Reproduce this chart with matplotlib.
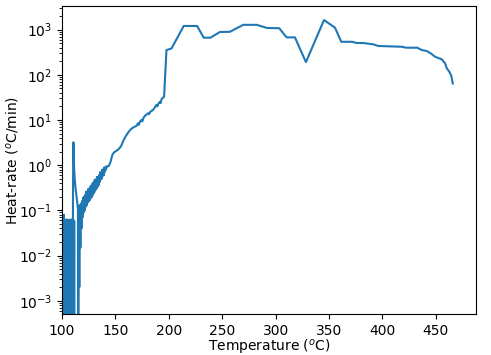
import matplotlib
matplotlib.use("Agg")
import matplotlib.pyplot as plt

# noisy start of the run (values dip far below the axis floor)
temp_noise = [100.0, 100.3, 100.6, 100.9, 101.2, 101.5, 101.8, 102.1, 102.4, 102.7,
              103.0, 103.3, 103.6, 103.9, 104.2, 104.5, 104.8, 105.1, 105.4, 105.7,
              106.0, 106.3, 106.6, 106.9, 107.2, 107.5, 107.8, 108.1, 108.4, 108.7,
              109.0, 109.3, 109.6, 109.9, 110.2, 110.5, 110.8, 111.1, 111.4, 111.7, 112.0]
rate_noise = [0.062, 1e-5, 0.058, 1e-5, 0.066, 1e-5, 0.08, 1e-5, 0.064, 1e-5,
              0.06, 1e-5, 0.061, 1e-5, 0.059, 1e-5, 0.063, 1e-5, 0.06, 1e-5,
              0.062, 1e-5, 0.058, 1e-5, 0.061, 1e-5, 0.06, 1e-5, 0.063, 1e-5,
              0.059, 1e-5, 0.062, 1e-5, 0.06, 1e-5, 0.061, 1e-5, 0.058, 1e-5, 1e-5]

# spike and its decay
temp_spike = [110.2, 110.45, 110.7, 110.95, 111.3, 111.9, 112.6, 113.4, 114.2, 114.9, 115.2]
rate_spike = [0.06, 1.6, 3.2, 1.9, 0.9, 0.5, 0.32, 0.22, 0.15, 0.11, 1e-5]

# oscillating band
temp_band = [115.7, 116.2, 116.7, 117.2, 117.7, 118.2, 118.7, 119.2, 119.7, 120.2,
             120.7, 121.2, 121.7, 122.2, 122.7, 123.2, 123.7, 124.2, 124.7, 125.2,
             125.7, 126.2, 126.7, 127.2, 127.7, 128.2, 128.7, 129.2, 129.7, 130.2,
             130.7, 131.2, 131.7, 132.2, 132.7, 133.2, 133.7, 134.2, 134.7, 135.2,
             135.7, 136.2, 136.7, 137.2, 137.7, 138.2, 138.7, 139.2, 139.7, 140.2,
             140.7, 141.2, 141.7]
rate_band = [0.12, 0.002, 0.13, 0.015, 0.14, 0.04, 0.16, 0.07, 0.19, 0.09,
             0.2, 0.1, 0.22, 0.12, 0.26, 0.13, 0.25, 0.15, 0.3, 0.16,
             0.3, 0.17, 0.34, 0.19, 0.35, 0.2, 0.4, 0.23, 0.42, 0.25,
             0.48, 0.28, 0.45, 0.3, 0.55, 0.33, 0.5, 0.36, 0.6, 0.42,
             0.7, 0.48, 0.65, 0.5, 0.8, 0.58, 0.75, 0.6, 0.9, 0.72,
             0.85, 0.8, 0.95]

# smooth part of the curve
temp_main = [142.5, 144.0, 145.5, 147.0, 148.5, 150.5, 152.5, 154.0, 155.5, 157.5,
             160.0, 162.5, 165.0, 167.5, 169.7, 171.2, 172.0, 172.8, 174.4, 175.2,
             176.2, 177.5, 179.0, 180.5, 181.5, 182.5, 184.0, 185.3, 187.0, 188.5,
             189.3, 190.3, 191.5, 192.3, 193.2, 194.7, 195.6, 197.8, 200.0, 202.5,
             214.0, 226.5, 232.7, 239.0, 247.8, 257.2, 269.7, 282.2, 292.1, 303.4,
             310.3, 318.1, 328.4, 345.3, 355.6, 361.5, 371.8, 375.9, 382.1, 391.5,
             396.2, 407.2, 418.1, 422.2, 432.7, 436.8, 441.5, 445.3, 449.3, 455.6,
             458.7, 460.3, 462.7, 464.5, 465.9]
rate_main = [0.93, 0.97, 1.2, 1.65, 1.9, 2.05, 2.2, 2.4, 2.7, 3.5,
             4.5, 5.5, 6.4, 7.0, 7.4, 8.4, 7.8, 9.0, 10.0, 9.3,
             11.0, 12.3, 13.0, 14.0, 13.4, 15.0, 16.0, 16.8, 19.0, 21.5,
             20.0, 23.0, 25.0, 23.5, 29.0, 31.0, 33.0, 352.0, 365.0, 380.0,
             1200.0, 1195.0, 660.0, 660.0, 880.0, 890.0, 1270.0, 1270.0, 1080.0, 1070.0,
             670.0, 670.0, 190.0, 1620.0, 1100.0, 535.0, 535.0, 503.0, 503.0, 470.0,
             432.0, 425.0, 416.0, 396.0, 396.0, 352.0, 334.0, 297.0, 250.0, 219.0,
             179.0, 139.0, 116.0, 95.0, 64.0]

temperature = temp_noise + temp_spike + temp_band + temp_main
heat_rate = rate_noise + rate_spike + rate_band + rate_main

fig = plt.figure(figsize=(4.91, 3.55), dpi=100)
ax = fig.add_axes([0.1263, 0.1155, 0.8426, 0.8662])
ax.plot(temperature, heat_rate, color="#1f77b4", lw=1.5)
ax.set_yscale("log")
ax.set_xlim(100, 487.4)
ax.set_ylim(5.1e-4, 3230)
ax.set_xlabel("Temperature ($^o$C)")
ax.set_ylabel("Heat-rate ($^o$C/min)")
# pull the axis labels in so they sit where the original has them
ax.xaxis.set_label_coords(0.5, -0.078)
ax.yaxis.set_label_coords(-0.1, 0.5)

fig.savefig("out.png", dpi=100)
